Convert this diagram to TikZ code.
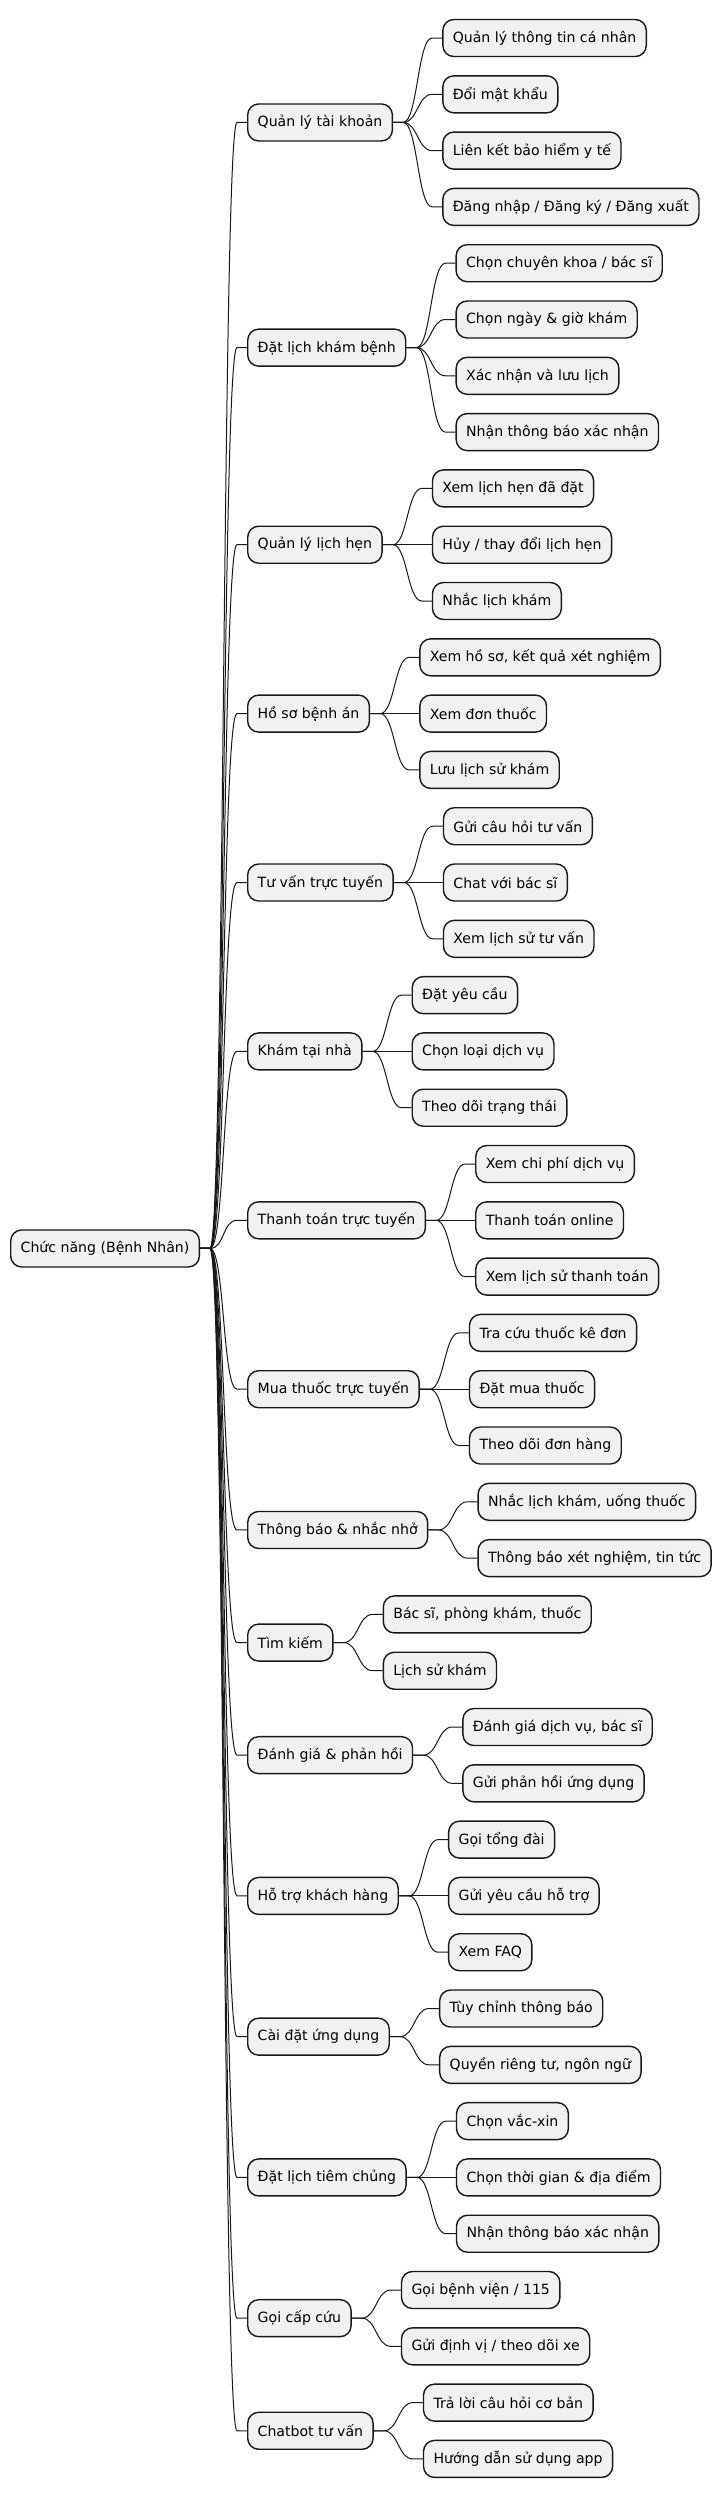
\documentclass[tikz,border=0pt]{standalone}
\usepackage{fontspec}
\setmainfont{DejaVu Sans}
\usetikzlibrary{positioning}
\definecolor{boxfill}{HTML}{F1F1F1}
\definecolor{boxline}{HTML}{181818}

\begin{document}
\begin{tikzpicture}[x=1pt, y=-1pt,
    topic/.style={draw=boxline, fill=boxfill, line width=1.4pt, rounded corners=11pt,
        minimum height=37pt, inner xsep=10pt, inner ysep=0pt, anchor=west,
        font=\fontsize{14.1}{17}\selectfont},
    leaf/.style={topic},
    link/.style={draw=boxline, line width=1pt,
        to path={-- ++(10pt,0) .. controls +(14.5pt,0) and ([xshift=-24.5pt]\tikztotarget.west)
            .. ([xshift=-10pt]\tikztotarget.west) -- (\tikztotarget.west)}}]
    \useasboundingbox (0,0) rectangle (719,2498);

    % root and first level
    \node[topic] (root) at (10,1248.45) {Chức năng (Bệnh Nhân)};
    \node[topic] (kh) at (247,122.45) {Quản lý tài khoản};
    \node[topic] (dl) at (247,347.65) {Đặt lịch khám bệnh};
    \node[topic] (lh) at (247,544.7) {Quản lý lịch hẹn};
    \node[topic] (hs) at (247,713.6) {Hồ sơ bệnh án};
    \node[topic] (tv) at (247,882.5) {Tư vấn trực tuyến};
    \node[topic] (kn) at (247,1051.4) {Khám tại nhà};
    \node[topic] (tt) at (247,1220.3) {Thanh toán trực tuyến};
    \node[topic] (mt) at (247,1389.2) {Mua thuốc trực tuyến};
    \node[topic] (tb) at (247,1529.95) {Thông báo \& nhắc nhở};
    \node[topic] (tk) at (247,1642.55) {Tìm kiếm};
    \node[topic] (dg) at (247,1755.15) {Đánh giá \& phản hồi};
    \node[topic] (ht) at (247,1895.9) {Hỗ trợ khách hàng};
    \node[topic] (cd) at (247,2036.65) {Cài đặt ứng dụng};
    \node[topic] (tc) at (247,2177.4) {Đặt lịch tiêm chủng};
    \node[topic] (cc) at (247,2318.15) {Gọi cấp cứu};
    \node[topic] (cb) at (247,2430.75) {Chatbot tư vấn};

    % leaves
    \node[leaf, right=49pt of kh, yshift=84.45pt] (kh1) {Quản lý thông tin cá nhân};
    \node[leaf, right=49pt of kh, yshift=28.15pt] (kh2) {Đổi mật khẩu};
    \node[leaf, right=49pt of kh, yshift=-28.15pt] (kh3) {Liên kết bảo hiểm y tế};
    \node[leaf, right=49pt of kh, yshift=-84.45pt] (kh4) {Đăng nhập / Đăng ký / Đăng xuất};

    \node[leaf, right=49pt of dl, yshift=84.45pt] (dl1) {Chọn chuyên khoa / bác sĩ};
    \node[leaf, right=49pt of dl, yshift=28.15pt] (dl2) {Chọn ngày \& giờ khám};
    \node[leaf, right=49pt of dl, yshift=-28.15pt] (dl3) {Xác nhận và lưu lịch};
    \node[leaf, right=49pt of dl, yshift=-84.45pt] (dl4) {Nhận thông báo xác nhận};

    \node[leaf, right=49pt of lh, yshift=56.3pt] (lh1) {Xem lịch hẹn đã đặt};
    \node[leaf, right=49pt of lh] (lh2) {Hủy / thay đổi lịch hẹn};
    \node[leaf, right=49pt of lh, yshift=-56.3pt] (lh3) {Nhắc lịch khám};

    \node[leaf, right=49pt of hs, yshift=56.3pt] (hs1) {Xem hồ sơ, kết quả xét nghiệm};
    \node[leaf, right=49pt of hs] (hs2) {Xem đơn thuốc};
    \node[leaf, right=49pt of hs, yshift=-56.3pt] (hs3) {Lưu lịch sử khám};

    \node[leaf, right=49pt of tv, yshift=56.3pt] (tv1) {Gửi câu hỏi tư vấn};
    \node[leaf, right=49pt of tv] (tv2) {Chat với bác sĩ};
    \node[leaf, right=49pt of tv, yshift=-56.3pt] (tv3) {Xem lịch sử tư vấn};

    \node[leaf, right=49pt of kn, yshift=56.3pt] (kn1) {Đặt yêu cầu};
    \node[leaf, right=49pt of kn] (kn2) {Chọn loại dịch vụ};
    \node[leaf, right=49pt of kn, yshift=-56.3pt] (kn3) {Theo dõi trạng thái};

    \node[leaf, right=49pt of tt, yshift=56.3pt] (tt1) {Xem chi phí dịch vụ};
    \node[leaf, right=49pt of tt] (tt2) {Thanh toán online};
    \node[leaf, right=49pt of tt, yshift=-56.3pt] (tt3) {Xem lịch sử thanh toán};

    \node[leaf, right=49pt of mt, yshift=56.3pt] (mt1) {Tra cứu thuốc kê đơn};
    \node[leaf, right=49pt of mt] (mt2) {Đặt mua thuốc};
    \node[leaf, right=49pt of mt, yshift=-56.3pt] (mt3) {Theo dõi đơn hàng};

    \node[leaf, right=49pt of tb, yshift=28.15pt] (tb1) {Nhắc lịch khám, uống thuốc};
    \node[leaf, right=49pt of tb, yshift=-28.15pt] (tb2) {Thông báo xét nghiệm, tin tức};

    \node[leaf, right=49pt of tk, yshift=28.15pt] (tk1) {Bác sĩ, phòng khám, thuốc};
    \node[leaf, right=49pt of tk, yshift=-28.15pt] (tk2) {Lịch sử khám};

    \node[leaf, right=49pt of dg, yshift=28.15pt] (dg1) {Đánh giá dịch vụ, bác sĩ};
    \node[leaf, right=49pt of dg, yshift=-28.15pt] (dg2) {Gửi phản hồi ứng dụng};

    \node[leaf, right=49pt of ht, yshift=56.3pt] (ht1) {Gọi tổng đài};
    \node[leaf, right=49pt of ht] (ht2) {Gửi yêu cầu hỗ trợ};
    \node[leaf, right=49pt of ht, yshift=-56.3pt] (ht3) {Xem FAQ};

    \node[leaf, right=49pt of cd, yshift=28.15pt] (cd1) {Tùy chỉnh thông báo};
    \node[leaf, right=49pt of cd, yshift=-28.15pt] (cd2) {Quyền riêng tư, ngôn ngữ};

    \node[leaf, right=49pt of tc, yshift=56.3pt] (tc1) {Chọn vắc-xin};
    \node[leaf, right=49pt of tc] (tc2) {Chọn thời gian \& địa điểm};
    \node[leaf, right=49pt of tc, yshift=-56.3pt] (tc3) {Nhận thông báo xác nhận};

    \node[leaf, right=49pt of cc, yshift=28.15pt] (cc1) {Gọi bệnh viện / 115};
    \node[leaf, right=49pt of cc, yshift=-28.15pt] (cc2) {Gửi định vị / theo dõi xe};

    \node[leaf, right=49pt of cb, yshift=28.15pt] (cb1) {Trả lời câu hỏi cơ bản};
    \node[leaf, right=49pt of cb, yshift=-28.15pt] (cb2) {Hướng dẫn sử dụng app};

    % links from the root
    \draw[link] (root.east) to (kh);
    \draw[link] (root.east) to (dl);
    \draw[link] (root.east) to (lh);
    \draw[link] (root.east) to (hs);
    \draw[link] (root.east) to (tv);
    \draw[link] (root.east) to (kn);
    \draw[link] (root.east) to (tt);
    \draw[link] (root.east) to (mt);
    \draw[link] (root.east) to (tb);
    \draw[link] (root.east) to (tk);
    \draw[link] (root.east) to (dg);
    \draw[link] (root.east) to (ht);
    \draw[link] (root.east) to (cd);
    \draw[link] (root.east) to (tc);
    \draw[link] (root.east) to (cc);
    \draw[link] (root.east) to (cb);

    % links to the leaves
    \draw[link] (kh.east) to (kh1);
    \draw[link] (kh.east) to (kh2);
    \draw[link] (kh.east) to (kh3);
    \draw[link] (kh.east) to (kh4);
    \draw[link] (dl.east) to (dl1);
    \draw[link] (dl.east) to (dl2);
    \draw[link] (dl.east) to (dl3);
    \draw[link] (dl.east) to (dl4);
    \draw[link] (lh.east) to (lh1);
    \draw[link] (lh.east) to (lh2);
    \draw[link] (lh.east) to (lh3);
    \draw[link] (hs.east) to (hs1);
    \draw[link] (hs.east) to (hs2);
    \draw[link] (hs.east) to (hs3);
    \draw[link] (tv.east) to (tv1);
    \draw[link] (tv.east) to (tv2);
    \draw[link] (tv.east) to (tv3);
    \draw[link] (kn.east) to (kn1);
    \draw[link] (kn.east) to (kn2);
    \draw[link] (kn.east) to (kn3);
    \draw[link] (tt.east) to (tt1);
    \draw[link] (tt.east) to (tt2);
    \draw[link] (tt.east) to (tt3);
    \draw[link] (mt.east) to (mt1);
    \draw[link] (mt.east) to (mt2);
    \draw[link] (mt.east) to (mt3);
    \draw[link] (tb.east) to (tb1);
    \draw[link] (tb.east) to (tb2);
    \draw[link] (tk.east) to (tk1);
    \draw[link] (tk.east) to (tk2);
    \draw[link] (dg.east) to (dg1);
    \draw[link] (dg.east) to (dg2);
    \draw[link] (ht.east) to (ht1);
    \draw[link] (ht.east) to (ht2);
    \draw[link] (ht.east) to (ht3);
    \draw[link] (cd.east) to (cd1);
    \draw[link] (cd.east) to (cd2);
    \draw[link] (tc.east) to (tc1);
    \draw[link] (tc.east) to (tc2);
    \draw[link] (tc.east) to (tc3);
    \draw[link] (cc.east) to (cc1);
    \draw[link] (cc.east) to (cc2);
    \draw[link] (cb.east) to (cb1);
    \draw[link] (cb.east) to (cb2);
\end{tikzpicture}
\end{document}
